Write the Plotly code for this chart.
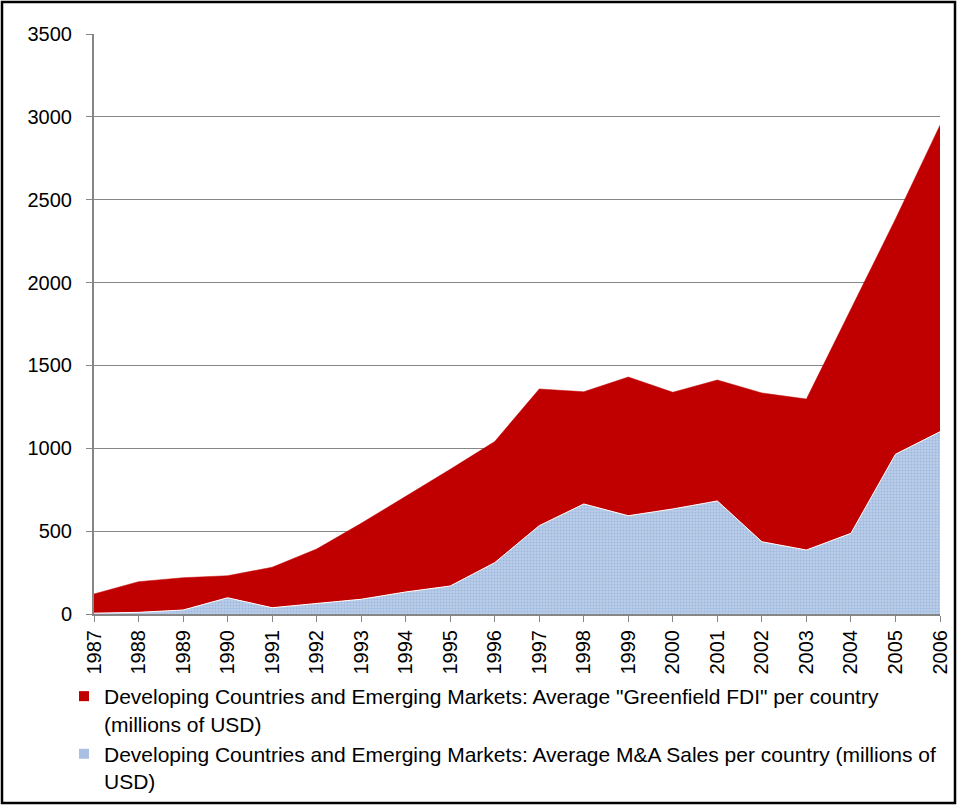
import plotly.graph_objects as go

years = list(range(1987, 2007))
ma_sales = [5, 10, 24, 98, 38, 64, 89, 133, 169, 310, 533, 664, 593, 634, 682, 436, 386, 487, 964, 1100]
greenfield = [116, 185, 195, 133, 244, 328, 458, 575, 704, 731, 825, 677, 837, 704, 730, 898, 911, 1353, 1419, 1850]
y_ticks = [0, 500, 1000, 1500, 2000, 2500, 3000, 3500]

name_gf = 'Developing Countries and Emerging Markets: Average "Greenfield FDI" per country<br>(millions of USD)'
name_ma = 'Developing Countries and Emerging Markets: Average M&A Sales per country (millions of<br>USD)'

RED = "#C00000"
BLUE_BG = "#BACDE8"
BLUE_FG = "#7F9FD3"

fig = go.Figure()
fig.add_trace(go.Scatter(
    x=years, y=ma_sales, stackgroup="s", mode="lines",
    line=dict(color="white", width=1),
    fillcolor=BLUE_BG,
    fillpattern=dict(shape=".", fgcolor=BLUE_FG, bgcolor=BLUE_BG, size=3, solidity=0.35),
    showlegend=False, hoverinfo="x+y",
))
fig.add_trace(go.Scatter(
    x=years, y=greenfield, stackgroup="s", mode="lines",
    line=dict(color=RED, width=0.5),
    fillcolor=RED,
    showlegend=False, hoverinfo="x+y",
))
# legend entries
fig.add_trace(go.Scatter(x=[None], y=[None], mode="markers", name=name_gf,
                         marker=dict(symbol="square", size=10, color=RED),
                         legendgroup="a"))
fig.add_trace(go.Scatter(x=[None], y=[None], mode="markers", name=name_ma,
                         marker=dict(symbol="square", size=10, color="#A9C0E2"),
                         legendgroup="b"))

W, H = 957, 805
L, R, T, B = 94, 940, 34, 614
pw, ph = R - L, B - T

def px(x):
    return (x - L) / pw

def py(y):
    return (B - y) / ph

fig.update_layout(
    width=W, height=H, autosize=False,
    margin=dict(l=L, r=W - R, t=T, b=H - B, autoexpand=False),
    paper_bgcolor="white", plot_bgcolor="white",
    font=dict(family="Liberation Sans, Arial, sans-serif", color="black", size=20),
    xaxis=dict(
        range=[1987, 2006], tickmode="array", tickvals=years,
        ticktext=[str(y) for y in years], tickangle=-90,
        showgrid=False, showline=True, linecolor="#868686", linewidth=2,
        ticks="outside", ticklen=6, tickcolor="#868686", tickwidth=1,
        tickfont=dict(size=20), zeroline=False, automargin=False,
    ),
    yaxis=dict(
        range=[0, 3500], tickmode="array", tickvals=y_ticks,
        showgrid=True, gridcolor="#868686", gridwidth=1,
        showline=True, linecolor="#868686", linewidth=2,
        ticks="outside", ticklen=6, tickcolor="#868686",
        ticklabelstandoff=10,
        tickfont=dict(size=20), zeroline=False, automargin=False,
    ),
    legend=dict(
        xref="container", yref="container",
        x=64 / W, y=1 - 676 / H, xanchor="left", yanchor="top",
        orientation="v", valign="top", tracegroupgap=0,
        font=dict(size=21), bgcolor="rgba(0,0,0,0)", itemwidth=30,
    ),
    shapes=[dict(type="rect", xref="paper", yref="paper",
                 x0=px(2), x1=px(955), y0=py(803), y1=py(2),
                 line=dict(color="black", width=2.5), layer="above")],
)

fig.write_html("out.html", config={"displayModeBar": False},
               post_script="document.body.style.margin='0';")
